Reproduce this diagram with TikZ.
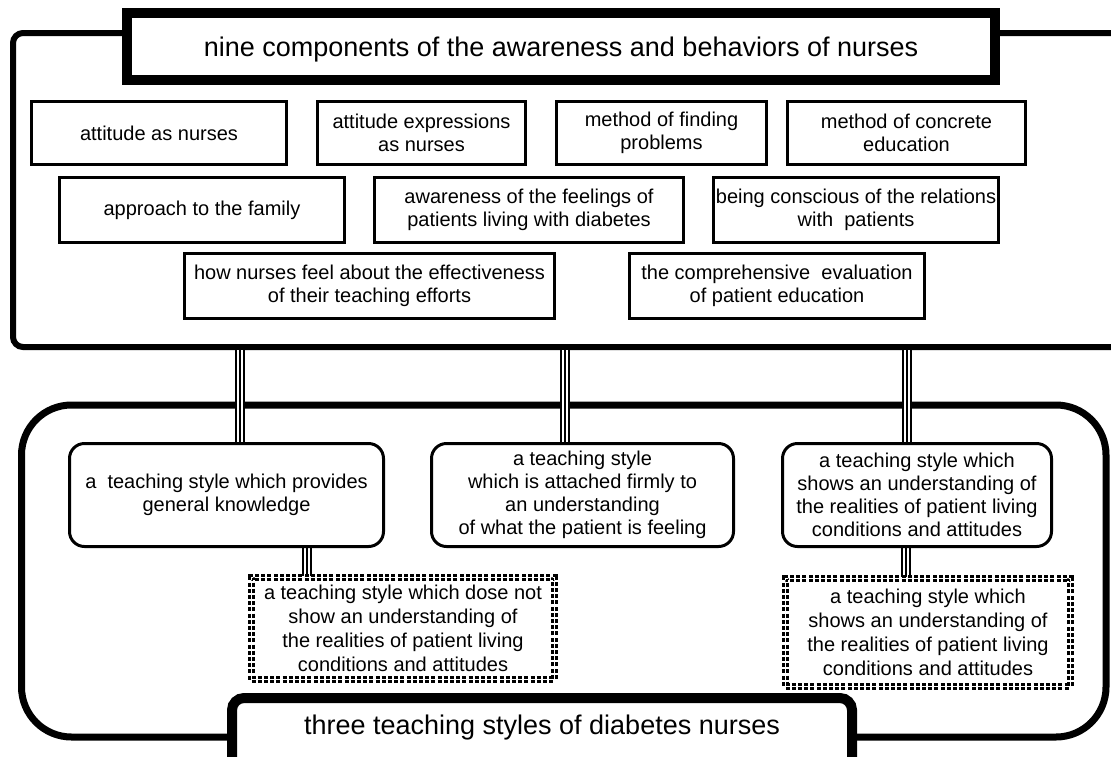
\documentclass[tikz,border=0pt]{standalone}
\usepackage{fontspec}
\setmainfont{Liberation Sans}
\usetikzlibrary{calc}
\pgfdeclarelayer{back}
\pgfdeclarelayer{mid}
\pgfsetlayers{back,mid,main}
\begin{document}
\begin{tikzpicture}[x=1pt,y=-1pt,
  txt/.style={font=\fontsize{20}{23}\selectfont, align=center, inner sep=2pt},
  sbox/.style={txt, draw, line width=3pt, fill=white},
  rbox/.style={txt, draw, line width=3pt, rounded corners=15pt, fill=white},
  dbox/.style={txt, draw, line width=2.6pt, double=white, double distance=1.8pt, dash pattern=on 4pt off 2.2pt, fill=white},
  triple/.style={draw=black, line width=10.7pt, postaction={draw=white, line width=6.1pt}, postaction={draw=black, line width=2.3pt}},
  bigtitle/.style={font=\fontsize{27}{32}\selectfont}
]
\useasboundingbox (0,0) rectangle (1111,756);

% outer frames
\begin{pgfonlayer}{back}
\node[draw, line width=6pt, rounded corners=10pt, minimum width=1117pt, minimum height=314pt] (top) at (571.5,190) {};
\node[draw, line width=7pt, rounded corners=50pt, minimum width=1084.5pt, minimum height=332pt] (bottom) at (563.75,571) {};
\end{pgfonlayer}

% title of the top frame
\node[draw, line width=10pt, fill=white, minimum width=868pt, minimum height=67pt] (t1) at (561,46.5) {};
\node[bigtitle, inner sep=0pt] (t1t) at (561,50) {nine components of the awareness and behaviors of nurses};

% nine components
\node[sbox, minimum width=255pt, minimum height=63pt] (a1) at (159,133) {attitude as nurses};
\node[sbox, minimum width=208pt, minimum height=63pt] (a2) at (421.5,133) {attitude expressions\\as nurses};
\node[sbox, minimum width=210pt, minimum height=63pt] (a3) at (661.5,133) {method of finding\\problems};
\node[sbox, minimum width=238pt, minimum height=63pt] (a4) at (906.5,133) {method of concrete\\education};
\node[sbox, minimum width=285pt, minimum height=65pt] (b1) at (202,210) {approach to the family};
\node[sbox, minimum width=309pt, minimum height=65pt] (b2) at (529,210) {awareness of the feelings of\\patients living with diabetes};
\node[sbox, minimum width=285pt, minimum height=65pt] (b3) at (856,210) {being conscious of the relations\\with\ \ patients};
\node[sbox, minimum width=370pt, minimum height=65pt] (c1) at (369.5,286) {how nurses feel about the effectiveness\\of their teaching efforts};
\node[sbox, minimum width=295pt, minimum height=65pt] (c2) at (777,286) {the comprehensive\ \ evaluation\\of patient education};

% teaching styles
\node[rbox, minimum width=314pt, minimum height=103pt] (m1) at (226.5,495) {a\ \ teaching style which provides\\general knowledge};
\node[rbox, minimum width=302pt, minimum height=103pt] (m2) at (582.5,495) {a teaching style\\which is attached firmly to\\an understanding\\of what the patient is feeling};
\node[rbox, minimum width=269pt, minimum height=103pt] (m3) at (917,495) {a teaching style which\\shows an understanding of\\the realities of patient living\\conditions and attitudes};

\node[dbox, font=\fontsize{20}{24}\selectfont, minimum width=303pt, minimum height=102pt] (d1) at (403,628.5) {a teaching style which dose not\\show an understanding of\\the realities of patient living\\conditions and attitudes};
\node[dbox, font=\fontsize{20}{24}\selectfont, minimum width=285pt, minimum height=108pt] (d2) at (928,632.5) {a teaching style which\\shows an understanding of\\the realities of patient living\\conditions and attitudes};

% bottom title
\node[draw, line width=10pt, rounded corners=12pt, fill=white, minimum width=620pt, minimum height=92pt] (t2) at (542,744) {};
\node[bigtitle, inner sep=0pt] (t2t) at (542,728) {three teaching styles of diabetes nurses};

% connectors
\coordinate (k1) at (240,350);
\coordinate (k2) at (565,350);
\coordinate (k3) at (907,350);
\coordinate (k4) at (307,0);
\coordinate (k5) at (906,0);
\begin{pgfonlayer}{mid}
\draw[triple] (k1) -- (m1.north -| k1);
\draw[triple] (k2) -- (m2.north -| k2);
\draw[triple] (k3) -- (m3.north -| k3);
\draw[triple] (m1.south -| k4) -- (d1.north -| k4);
\draw[triple] (m3.south -| k5) -- (d2.north -| k5);
\end{pgfonlayer}
\end{tikzpicture}
\end{document}
